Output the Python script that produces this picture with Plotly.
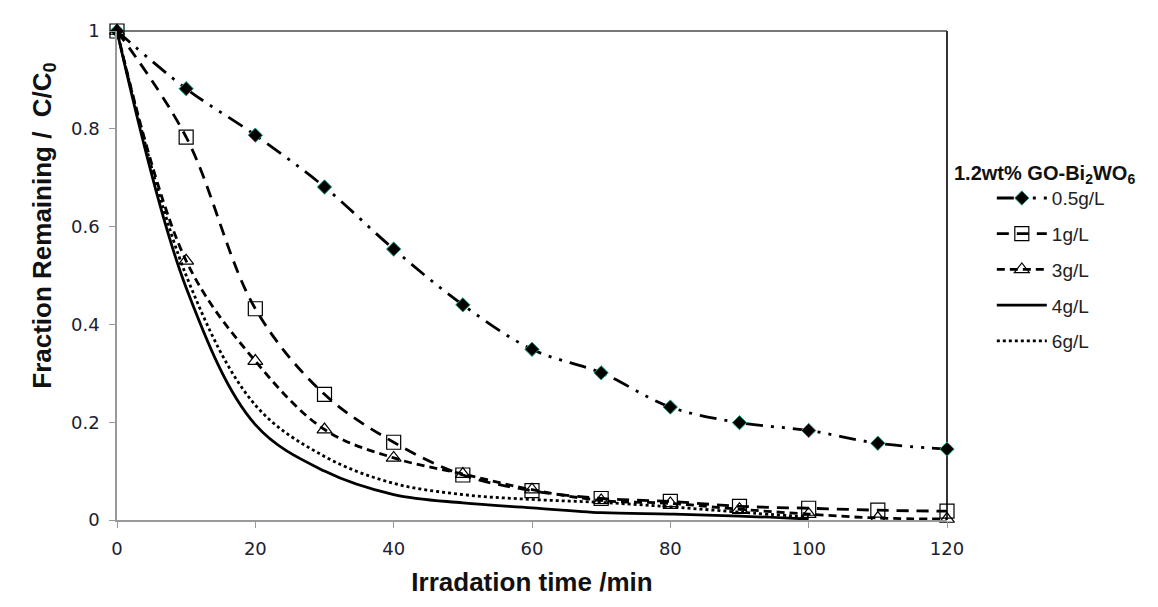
import plotly.graph_objects as go

time_min = [0, 10, 20, 30, 40, 50, 60, 70, 80, 90, 100, 110, 120]
time_short = [0, 10, 20, 30, 40, 50, 60, 70, 80, 90, 100]

c_05 = [1.0, 0.882, 0.787, 0.681, 0.554, 0.44, 0.349, 0.301, 0.231, 0.199, 0.183, 0.157, 0.145]
c_1 = [1.0, 0.783, 0.432, 0.257, 0.159, 0.092, 0.06, 0.044, 0.038, 0.028, 0.024, 0.02, 0.018]
c_3 = [1.0, 0.53, 0.325, 0.185, 0.127, 0.094, 0.062, 0.04, 0.034, 0.022, 0.012, 0.004, 0.002]
c_4 = [1.0, 0.475, 0.195, 0.1, 0.052, 0.035, 0.025, 0.015, 0.012, 0.008, 0.002]
c_6 = [1.0, 0.5, 0.235, 0.13, 0.075, 0.052, 0.042, 0.036, 0.027, 0.016, 0.006]

legend_title = "<b>1.2wt% GO-Bi<sub>2</sub>WO<sub>6</sub></b>"
y_title = "<b>Fraction Remaining /  C/C<sub>0</sub></b>"
x_title = "<b>Irradation time /min</b>"

fig = go.Figure()

fig.add_trace(go.Scatter(
    x=time_min, y=c_05, name="0.5g/L", mode="lines+markers",
    line=dict(color="black", width=2.8, dash="17px,8px,3px,8px,3px,8px", shape="spline", smoothing=1.0),
    marker=dict(symbol="diamond", size=11, color="black", line=dict(color="#1aa086", width=1)),
    cliponaxis=False, legendgroup="a"))
fig.add_trace(go.Scatter(
    x=time_min, y=c_1, name="1g/L", mode="lines+markers",
    line=dict(color="black", width=2.8, dash="12px,8px", shape="spline", smoothing=1.0),
    marker=dict(symbol="square-open", size=14, color="black", line=dict(width=1.2)),
    cliponaxis=False, legendgroup="b"))
fig.add_trace(go.Scatter(
    x=time_min, y=c_3, name="3g/L", mode="lines+markers",
    line=dict(color="black", width=2.8, dash="8px,5px", shape="spline", smoothing=1.0),
    marker=dict(symbol="triangle-up-open", size=13, color="black", line=dict(width=1.2)),
    cliponaxis=False, legendgroup="c"))
fig.add_trace(go.Scatter(
    x=time_short, y=c_4, name="4g/L", mode="lines",
    line=dict(color="black", width=2.8, shape="spline", smoothing=1.0),
    cliponaxis=False, legendgroup="d"))
fig.add_trace(go.Scatter(
    x=time_short, y=c_6, name="6g/L", mode="lines",
    line=dict(color="black", width=2.8, dash="dot", shape="spline", smoothing=1.0),
    cliponaxis=False, legendgroup="e"))

tick_font = dict(family="DejaVu Sans", size=18, color="#202030")

fig.update_layout(
    width=1158, height=607,
    margin=dict(l=109, r=219, t=14, b=95),
    paper_bgcolor="white", plot_bgcolor="white",
    showlegend=True,
    legend=dict(
        font=dict(family="Liberation Sans", size=19, color="#222"),
        x=1.054, xanchor="left", y=0.697, yanchor="top",
        itemwidth=50, tracegroupgap=8, bgcolor="rgba(0,0,0,0)",
    ),
    annotations=[
        dict(text=legend_title, xref="paper", yref="paper", x=1.006, y=0.707,
             xanchor="left", yanchor="middle", showarrow=False,
             font=dict(family="Liberation Sans", size=20, color="#111")),
        dict(text=y_title, xref="paper", yref="paper", x=-0.089, y=0.602,
             xanchor="center", yanchor="middle", showarrow=False, textangle=-90,
             font=dict(family="Liberation Sans", size=26, color="#111")),
    ],
    xaxis=dict(
        range=[0, 120], tickvals=[0, 20, 40, 60, 80, 100, 120],
        showgrid=False, zeroline=False, showline=True, linecolor="#999", linewidth=1.5,
        ticks="outside", ticklen=6, tickcolor="#999", tickfont=tick_font, ticklabelstandoff=6,
        title=dict(text=x_title, font=dict(family="Liberation Sans", size=26, color="#111"), standoff=14),
    ),
    yaxis=dict(
        range=[0, 1], tickvals=[0, 0.2, 0.4, 0.6, 0.8, 1],
        ticktext=["0", "0.2", "0.4", "0.6", "0.8", "1"],
        showgrid=False, zeroline=False, showline=True, linecolor="#999", linewidth=1.5,
        ticks="outside", ticklen=6, tickcolor="#999", tickfont=tick_font, ticklabelstandoff=6,
    ),
    shapes=[
        dict(type="line", xref="paper", yref="paper", x0=0, x1=1, y0=1, y1=1, line=dict(color="#777", width=2), layer="below"),
        dict(type="line", xref="paper", yref="paper", x0=1, x1=1, y0=0, y1=1, line=dict(color="#333", width=2), layer="below"),
    ],
)

fig.write_html("out.html")
